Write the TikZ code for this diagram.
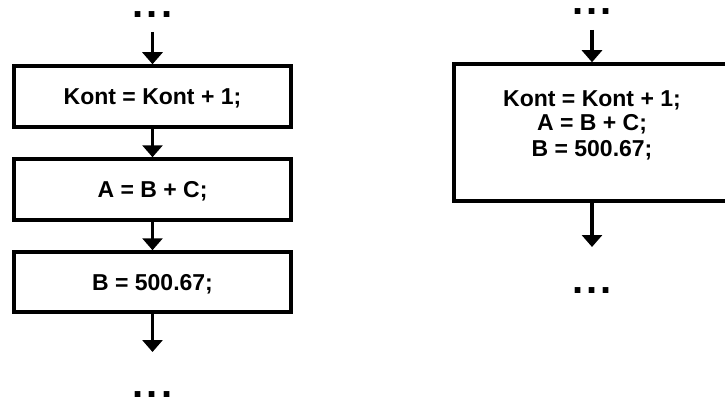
\documentclass[tikz,border=0pt]{standalone}
\usepackage{fontspec}
\setmainfont{Liberation Sans}
\usetikzlibrary{arrows.meta}
\newcommand{\mydots}{.\hspace{3pt}.\hspace{3pt}.}
\begin{document}
\begin{tikzpicture}[x=1pt,y=-1pt,
  box/.style={draw,line width=3.5pt,inner sep=0pt,minimum width=277pt,text height=16.5pt,text depth=0pt,font=\fontsize{23}{25}\selectfont\bfseries},
  arr/.style={line width=3.5pt,-{Triangle[width=20pt,length=12pt]}},
  dots/.style={inner sep=0pt,anchor=base,font=\fontsize{40}{40}\selectfont\bfseries},
  txt/.style={inner sep=0pt,align=center,font=\fontsize{23}{25}\selectfont\bfseries}]
\useasboundingbox (0,0) rectangle (725,401);
% left column
\node[dots] (d1) at (152.5,17.3) {\mydots};
\coordinate (s1) at (152.5,32);
\node[box,minimum height=61pt] (b1) at (152.5,96.5) {Kont = Kont + 1;};
\node[box,minimum height=61pt] (b2) at (152.5,189.5) {A = B + C;};
\node[box,minimum height=60pt] (b3) at (152.5,282) {B = 500.67;};
\coordinate (e1) at (152.5,352);
\node[dots] (d2) at (152.5,397) {\mydots};
\draw[arr] (s1) -- (b1.north);
\draw[arr] (b1.south) -- (b2.north);
\draw[arr] (b2.south) -- (b3.north);
\draw[arr] (b3.south) -- (e1);
% right column
\node[dots] (d3) at (592,15) {\mydots};
\coordinate (s2) at (592,30);
\node[box,minimum width=276pt,minimum height=137pt] (rb) at (592,132.5) {};
\node[txt,anchor=base] (rt) at (592,156) {Kont = Kont + 1;\\A = B + C;\\B = 500.67;};
\coordinate (e2) at (592,247);
\node[dots] (d4) at (592,293) {\mydots};
\draw[arr] (s2) -- (rb.north);
\draw[arr] (rb.south) -- (e2);
\end{tikzpicture}
\end{document}
